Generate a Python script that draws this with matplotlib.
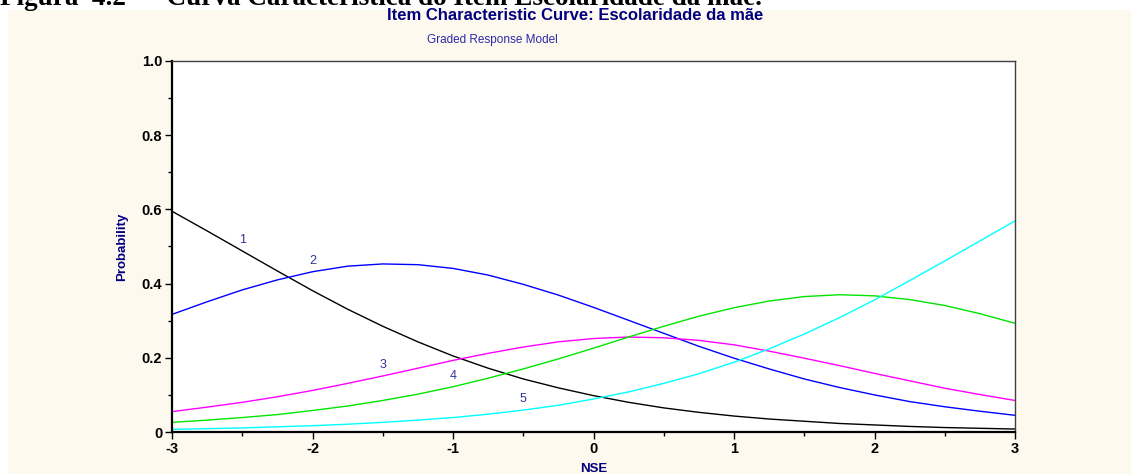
import matplotlib
matplotlib.use('Agg')
import matplotlib.pyplot as plt
from matplotlib.patches import Rectangle
from matplotlib.ticker import MultipleLocator, FixedLocator

# theta grid (NSE) and category response curves, graded response model
nse = [-3.0, -2.75, -2.5, -2.25, -2.0, -1.75, -1.5, -1.25, -1.0, -0.75, -0.5, -0.25,
       0.0, 0.25, 0.5, 0.75, 1.0, 1.25, 1.5, 1.75, 2.0, 2.25, 2.5, 2.75, 3.0]

cat1 = [0.595, 0.542, 0.488, 0.434, 0.381, 0.331, 0.285, 0.243, 0.205, 0.172, 0.143, 0.119,
        0.098, 0.080, 0.065, 0.053, 0.043, 0.035, 0.029, 0.023, 0.019, 0.015, 0.012, 0.010, 0.008]
cat2 = [0.317, 0.351, 0.383, 0.410, 0.432, 0.447, 0.453, 0.451, 0.441, 0.423, 0.398, 0.369,
        0.336, 0.301, 0.266, 0.231, 0.199, 0.170, 0.143, 0.120, 0.100, 0.082, 0.068, 0.056, 0.045]
cat3 = [0.055, 0.067, 0.080, 0.095, 0.112, 0.131, 0.151, 0.172, 0.193, 0.212, 0.229, 0.243,
        0.252, 0.256, 0.254, 0.247, 0.235, 0.218, 0.199, 0.179, 0.158, 0.138, 0.118, 0.101, 0.085]
cat4 = [0.026, 0.032, 0.039, 0.047, 0.058, 0.070, 0.085, 0.102, 0.122, 0.145, 0.170, 0.197,
        0.226, 0.256, 0.285, 0.312, 0.335, 0.353, 0.365, 0.370, 0.367, 0.357, 0.341, 0.319, 0.293]
cat5 = [0.007, 0.009, 0.011, 0.014, 0.017, 0.021, 0.026, 0.032, 0.039, 0.048, 0.059, 0.072,
        0.089, 0.108, 0.131, 0.157, 0.188, 0.224, 0.264, 0.308, 0.356, 0.408, 0.461, 0.515, 0.569]

curves = [cat1, cat2, cat3, cat4, cat5]
names = ['1', '2', '3', '4', '5']
colors = ['#000000', '#0000ff', '#ff00ff', '#00e600', '#00ffff']

xticks = [-3, -2, -1, 0, 1, 2, 3]
yticks = [0, 0.2, 0.4, 0.6, 0.8, 1.0]
ytick_labels = ['0', '0.2', '0.4', '0.6', '0.8', '1.0']

cream = '#fef9ee'
navy = '#000080'
sans = ['Liberation Sans Narrow', 'Liberation Sans']

fig = plt.figure(figsize=(11.31, 4.74), dpi=100, facecolor='white')
fig.patches.append(Rectangle((8 / 1131, 0), 1, 1 - 10 / 474, transform=fig.transFigure,
                             facecolor=cream, edgecolor='none', zorder=-10))

# caption of the figure, mostly cut off by the top edge
fig.text(0.0, 1 - 5 / 474, 'Figura  4.2  \u2013  Curva Caracter\u00edstica do Item Escolaridade da m\u00e3e.',
         family='Liberation Serif', weight='bold', size=19.5, color='black', va='baseline', ha='left')

fig.text(575 / 1131, 1 - 15 / 474, 'Item Characteristic Curve: Escolaridade da m\u00e3e',
         family=sans, weight='bold', size=12, color=navy, ha='center', va='center')
fig.text(492 / 1131, 1 - 40 / 474, 'Graded Response Model',
         family=sans, size=8.5, color='#2a2aa8', ha='center', va='center')

ax = fig.add_axes([172 / 1131, 1 - 432 / 474, 843 / 1131, 371 / 474])
ax.set_facecolor('white')

for vals, c in zip(curves, colors):
    ax.plot(nse, vals, color=c, lw=1.0)

# category numbers sit just above each curve
for k, (vals, name) in enumerate(zip(curves, names)):
    i = 2 + 2 * k
    ax.text(nse[i], vals[i] + 0.03, name, color='#333399', size=9,
            family='Liberation Sans', ha='center', va='center')

ax.set_xlim(-3, 3)
ax.set_ylim(0, 1)
ax.xaxis.set_major_locator(FixedLocator(xticks))
ax.xaxis.set_minor_locator(MultipleLocator(0.5))
ax.yaxis.set_major_locator(FixedLocator(yticks))
ax.yaxis.set_minor_locator(MultipleLocator(0.1))
ax.set_yticklabels(ytick_labels)
ax.set_xticklabels([str(t) for t in xticks])

ax.tick_params(which='major', direction='out', length=5, width=1, pad=2, colors='black')
ax.tick_params(which='minor', direction='out', length=3, width=1)
for lab in ax.get_xticklabels() + ax.get_yticklabels():
    lab.set_family(sans)
    lab.set_weight('bold')
    lab.set_size(10.5)

for side in ['left', 'bottom']:
    ax.spines[side].set_linewidth(1.6)
    ax.spines[side].set_color('black')
for side in ['top', 'right']:
    ax.spines[side].set_linewidth(1.0)
    ax.spines[side].set_color('#404040')

ax.set_ylabel('Probability', family=sans, weight='bold', size=9.5, color=navy)
ax.yaxis.set_label_coords((128 - 172) / 843, 0.5)
ax.set_xlabel('NSE', family=sans, weight='bold', size=9.5, color=navy)
ax.xaxis.set_label_coords(0.5, (432 - 463) / 371)

fig.savefig('out.png', dpi=100, facecolor=fig.get_facecolor())
